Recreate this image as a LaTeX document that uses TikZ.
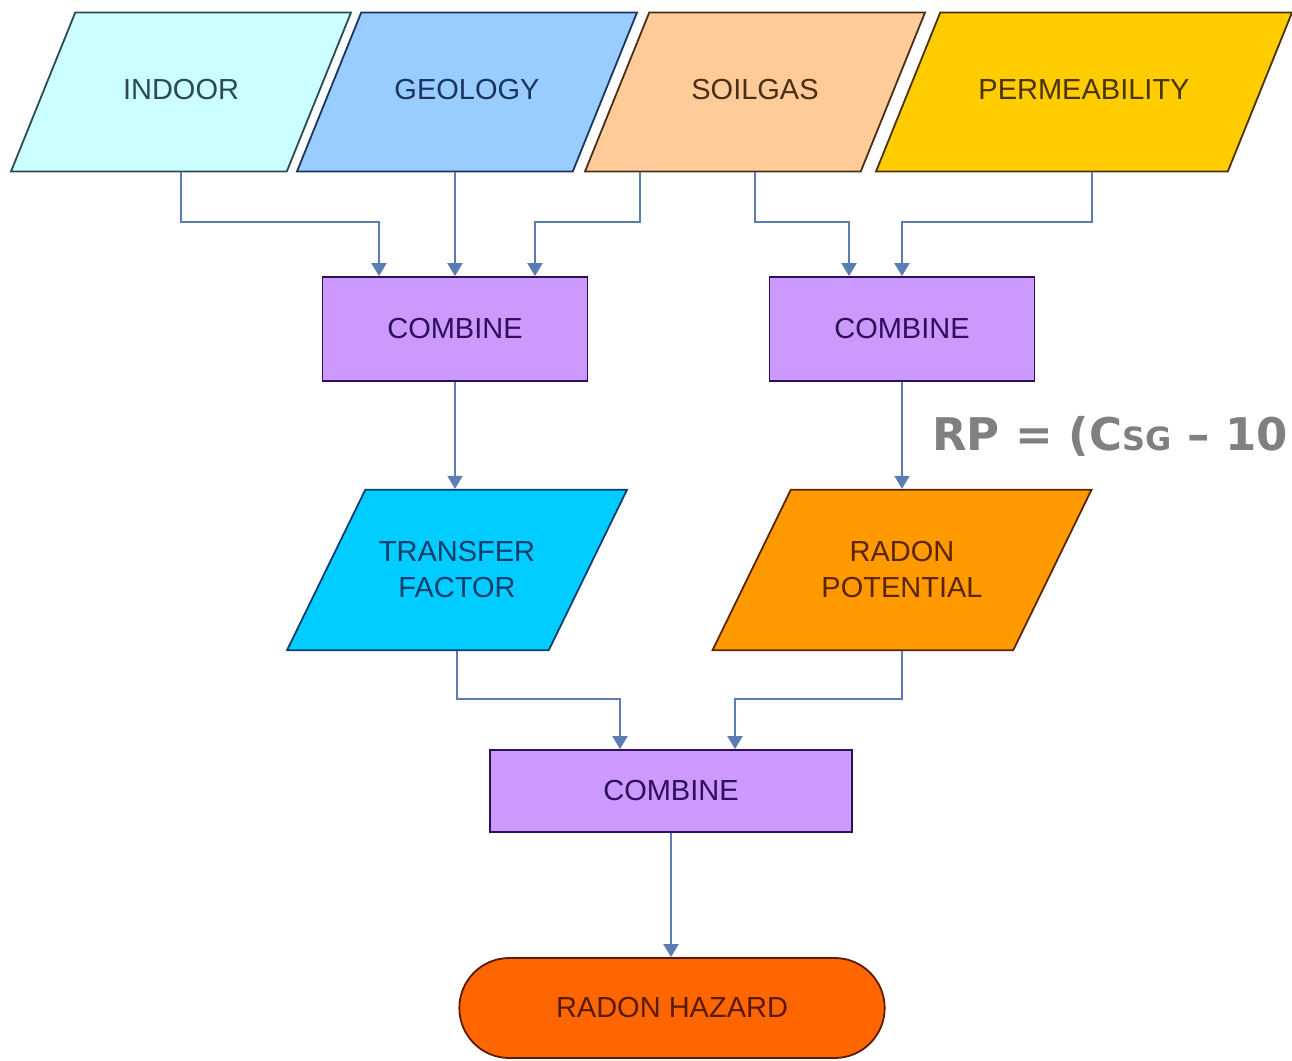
\documentclass[tikz,border=0pt]{standalone}
\usepackage{fontspec}
\setmainfont{Liberation Sans}
\newfontfamily\rpfont{DejaVu Sans}
\usepackage{tikz}
\usetikzlibrary{arrows.meta,positioning,calc,shapes.geometric,shapes.misc}
\definecolor{indoorF}{HTML}{CCFFFF}\definecolor{indoorT}{HTML}{2B4A55}
\definecolor{geoF}{HTML}{99CCFF}\definecolor{geoT}{HTML}{1A3560}
\definecolor{soilF}{HTML}{FFCC99}\definecolor{soilT}{HTML}{4A2E18}
\definecolor{permF}{HTML}{FFCC00}\definecolor{permT}{HTML}{4A3300}
\definecolor{cmbF}{HTML}{CC99FF}\definecolor{cmbT}{HTML}{2E0F5A}
\definecolor{tfF}{HTML}{00CCFF}\definecolor{tfT}{HTML}{0E3D6E}
\definecolor{rpF}{HTML}{FF9900}\definecolor{rpT}{HTML}{5A2600}
\definecolor{hazF}{HTML}{FF6600}\definecolor{hazT}{HTML}{5A1A00}
\definecolor{arrblue}{HTML}{5B7DB1}
\tikzset{
  dat/.style={trapezium,trapezium left angle=68,trapezium right angle=112,trapezium stretches body=true,
    draw=#1T,fill=#1F,text=#1T,line width=1.8pt,text height=21pt,text depth=6pt,inner xsep=0pt,inner ysep=66pt,align=center},
  cmb/.style={draw=cmbT,fill=cmbF,text=cmbT,line width=1.8pt,minimum width=265pt,minimum height=104pt,inner sep=0pt},
  res/.style={trapezium,trapezium left angle=64,trapezium right angle=116,trapezium stretches body=true,
    draw=#1T,fill=#1F,text=#1T,line width=1.8pt,inner xsep=0pt,inner ysep=52pt,align=center},
  arr/.style={-{Triangle[length=13pt,width=15pt]},line width=2pt,arrblue},
}
\begin{document}
\begin{tikzpicture}[x=1pt,y=-1pt,every node/.style={font=\fontsize{29}{36}\selectfont}]
 \useasboundingbox (0,0) rectangle (1292,1060);
 % inputs
 \node[dat=indoor,minimum width=340pt] (indoor) at (181,92) {INDOOR};
 \node[dat=geo,minimum width=340pt] (geo) at (467,92) {GEOLOGY};
 \node[dat=soil,minimum width=340pt] (soil) at (755,92) {SOILGAS};
 \node[dat=perm,minimum width=416pt] (perm) at (1084,92) {PERMEABILITY};
 % combine steps
 \node[cmb] (cmb1) at (455,329) {COMBINE};
 \node[cmb] (cmb2) at (902,329) {COMBINE};
 \node[res=tf,minimum width=340pt] (tf) at (457,570) {TRANSFER\\FACTOR};
 \node[res=rp,minimum width=379pt] (rp) at (902,570) {RADON\\POTENTIAL};
 \node[cmb,minimum width=362pt,minimum height=82pt] (cmb3) at (671,791) {COMBINE};
 \node[rounded rectangle,draw=hazT,fill=hazF,text=hazT,line width=1.8pt,minimum width=432pt,minimum height=100pt] (haz) at (672,1008) {RADON HAZARD};
 \node[anchor=base west,inner sep=0pt,text=black!50,font=\rpfont\bfseries\fontsize{45}{45}\selectfont] (rpeq) at (932,450)
   {RP = (C{\fontsize{32}{32}\selectfont SG} – 10};
 % connectors
 \draw[arr] (indoor.south) -- ++(0,50) -| ([xshift=-76pt]cmb1.north);
 \draw[arr] (geo.south -| cmb1.north) -- (cmb1.north);
 \draw[arr] ([xshift=-115pt]soil.south) -- ++(0,50) -| ([xshift=80pt]cmb1.north);
 \draw[arr] (soil.south) -- ++(0,50) -| ([xshift=-53pt]cmb2.north);
 \draw[arr] ([xshift=8pt]perm.south) -- ++(0,50) -| (cmb2.north);
 \draw[arr] (cmb1.south) -- (cmb1.south |- tf.north);
 \draw[arr] (cmb2.south) -- (cmb2.south |- rp.north);
 \draw[arr] (tf.south) -- ++(0,48) -| ([xshift=-51pt]cmb3.north);
 \draw[arr] (rp.south) -- ++(0,48) -| ([xshift=64pt]cmb3.north);
 \draw[arr] (cmb3.south) -- (cmb3.south |- haz.north);
\end{tikzpicture}
\end{document}
